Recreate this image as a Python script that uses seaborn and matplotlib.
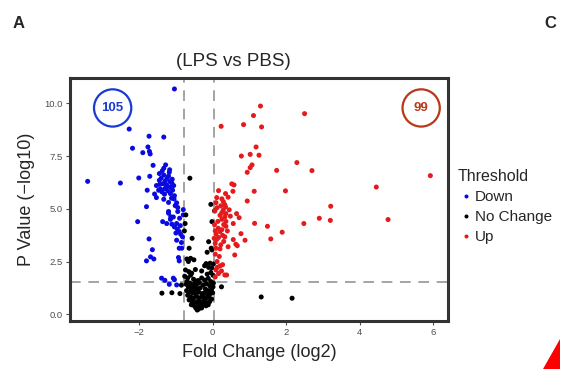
import numpy as np
import pandas as pd
import seaborn as sns
import matplotlib.pyplot as plt
from matplotlib.patches import Polygon

#%% data

down_x = [-1.04, -2.27, -1.73, -1.33, -2.18, -1.76, -1.72, -1.90, -1.70, -1.62, -1.28, -1.33, -2.01,
          -1.71, -3.40, -2.51, -1.45, -1.33, -1.40, -1.18, -1.24, -1.29, -1.16, -1.35, -1.44, -1.25,
          -1.11, -1.15, -1.53, -1.42, -1.47, -1.22, -1.09, -1.31, -1.15, -1.04, -1.05, -0.98, -0.95,
          -0.80, -1.20, -0.95, -0.80, -1.07, -1.36, -1.25, -1.11, -0.98, -1.04, -0.96, -0.91, -0.87,
          -0.82, -0.98, -0.84, -0.91, -0.93, -0.91, -1.53, -1.78, -1.80, -2.04, -1.73, -1.64, -1.69,
          -1.60, -1.80, -1.39, -1.30, -1.18, -1.07, -1.04, -0.98, -1.37, -1.20, -1.10, -1.27, -1.38,
          -1.12, -1.20, -1.02, -0.90, -1.15, -0.88, -1.00, -1.45, -1.06, -1.30, -0.85, -1.33, -1.58,
          -1.17, -1.20, -1.14]
down_y = [10.68, 8.78, 8.44, 8.40, 7.87, 7.93, 7.72, 7.66, 7.60, 7.06, 7.08, 6.92, 6.46,
          6.54, 6.30, 6.22, 6.67, 6.60, 6.45, 6.73, 6.45, 6.32, 6.29, 6.19, 6.16, 6.13,
          6.22, 6.03, 6.10, 5.94, 5.88, 5.85, 5.88, 5.69, 5.72, 5.62, 5.47, 5.28, 5.06,
          4.96, 4.87, 4.87, 4.71, 4.61, 4.39, 4.30, 4.27, 4.30, 4.14, 4.04, 3.92, 3.79,
          3.67, 3.51, 3.13, 3.13, 2.69, 2.53, 5.53, 5.88, 5.10, 4.39, 3.57, 3.06, 2.72,
          2.62, 2.53, 1.71, 1.61, 1.42, 1.71, 1.64, 1.39, 6.80, 6.55, 6.40, 6.00, 5.80,
          5.50, 5.30, 5.15, 4.55, 4.50, 4.20, 3.85, 6.35, 6.10, 5.95, 3.40, 5.45, 5.70,
          6.85, 4.79, 4.62]

nochange_x = [-0.62, -0.05, 0.05, -0.02, -0.73, -0.75, -0.77, -0.56, -0.64, -0.11, -0.04, -0.15,
              -0.02, 1.32, 2.16, -1.38, -1.11, -0.89, 0.24, -0.72, -0.85,
              -0.70, -0.60, -0.51, -0.66, -0.18, -0.07, 0.02, -0.22, -0.11, -0.02, -0.74, -0.65,
              -0.57, -0.47, -0.30, -0.05, -0.15, 0.01,
              -0.76, -0.68, -0.60, -0.52, -0.70, -0.62, -0.55, -0.48, -0.40, -0.30, -0.22, -0.12,
              -0.05, 0.02, -0.17, -0.26, -0.08, 0.01, -0.66, -0.58, -0.50, -0.42, -0.34, -0.20,
              -0.12, -0.03, -0.71, -0.63, -0.54, -0.46, -0.38, -0.29, -0.21, -0.14, -0.06, 0.00,
              -0.68, -0.60, -0.52, -0.44, -0.36, -0.28, -0.19, -0.10, -0.03, -0.64, -0.56, -0.48,
              -0.40, -0.32, -0.24, -0.16, -0.08, -0.58, -0.50, -0.42, -0.34, -0.26, -0.18, -0.46,
              -0.38, -0.30, -0.42, -0.35, -0.55, -0.22, -0.12, -0.44, -0.36, -0.52, -0.27]
nochange_y = [6.45, 5.21, 4.90, 4.39, 4.71, 4.30, 3.95, 3.60, 3.13, 3.44, 3.13, 2.94,
              3.05, 0.82, 0.76, 1.00, 1.02, 0.98, 1.30, 1.42, 1.38,
              2.62, 2.65, 2.58, 2.50, 2.40, 2.42, 2.38, 2.30, 2.22, 2.20, 2.10, 2.02,
              1.95, 2.12, 2.05, 1.98, 1.90, 1.85,
              1.80, 1.72, 1.85, 1.66, 1.55, 1.48, 1.40, 1.52, 1.60, 1.72, 1.62, 1.70,
              1.55, 1.48, 1.45, 1.38, 1.35, 1.30, 1.30, 1.22, 1.28, 1.18, 1.25, 1.20,
              1.12, 1.18, 1.12, 1.05, 1.00, 0.95, 1.05, 0.98, 1.02, 0.92, 0.98, 1.02,
              0.90, 0.82, 0.75, 0.85, 0.78, 0.82, 0.75, 0.80, 0.72, 0.68, 0.60, 0.55,
              0.62, 0.58, 0.62, 0.55, 0.60, 0.45, 0.40, 0.45, 0.38, 0.44, 0.40, 0.30,
              0.25, 0.30, 0.20, 0.35, 0.72, 0.50, 0.45, 1.40, 1.50, 1.10, 0.90]

up_x = [1.30, 1.11, 2.50, 0.23, 0.84, 1.33, 1.18, 1.02, 1.26, 0.78, 2.29, 1.07, 1.02, 0.94,
        1.74, 2.70, 5.92, 0.52, 0.58, 4.45, 0.16, 0.55, 1.13, 1.98, 0.35, 0.11, 0.25, 0.29,
        0.94, 0.09, 0.33, 0.22, 0.35, 0.29, 0.25, 0.36, 0.06, 0.20, 0.33, 0.25, 0.36, 3.21,
        2.90, 3.20, 0.65, 0.72, 1.14, 2.48, 1.49, 4.77, 0.56, 0.36, 0.15, 0.25, 0.07, 0.20,
        0.09, 0.27, 0.16, 0.33, 0.11, 1.89, 0.77, 0.88, 1.58, 0.56, 0.63, 0.67, 0.60, 0.07,
        0.22, 0.09, 0.20, 0.07, 0.18, 0.27, 0.20, 0.13, 0.09, 0.07, 0.16, 0.33, 0.38, 0.45,
        0.42, 0.12, 0.30, 0.14, 0.05, 0.40, 0.48, 0.30, 0.42, 0.04, 0.12, 0.24]
up_y = [9.87, 9.42, 9.51, 8.91, 8.99, 8.88, 7.93, 7.58, 7.54, 7.50, 7.19, 7.08, 6.95, 6.73,
        6.82, 6.81, 6.57, 6.18, 6.13, 6.03, 5.86, 5.83, 5.83, 5.85, 5.72, 5.53, 5.47, 5.34,
        5.37, 5.29, 5.20, 5.14, 5.09, 4.95, 4.82, 4.77, 4.90, 4.69, 4.61, 4.50, 4.40, 5.12,
        4.55, 4.45, 4.77, 4.58, 4.31, 4.30, 4.17, 4.49, 4.30, 4.17, 4.08, 4.01, 3.95, 3.92,
        3.80, 3.74, 3.64, 3.67, 3.55, 3.89, 3.82, 3.51, 3.57, 3.54, 3.32, 3.25, 2.81, 3.36,
        3.29, 3.13, 3.10, 2.85, 2.74, 2.35, 2.29, 2.23, 2.10, 1.77, 1.93, 1.86, 1.86, 4.95,
        5.55, 5.05, 4.25, 4.40, 4.25, 3.95, 4.65, 3.45, 3.20, 3.60, 2.50, 2.05]

groups = ["Down", "No Change", "Up"]
group_colors = ["#0a0ae0", "#000000", "#e41a1c"]
fc_cut = [-0.78, 0.04]
p_cut = 1.52
n_down, n_up = 105, 99
x_ticks = [-2, 0, 2, 4, 6]
y_ticks = [0.0, 2.5, 5.0, 7.5, 10.0]

#%% build table

df = pd.concat([
    pd.DataFrame({"fc": down_x, "p": down_y, "Threshold": "Down"}),
    pd.DataFrame({"fc": nochange_x, "p": nochange_y, "Threshold": "No Change"}),
    pd.DataFrame({"fc": up_x, "p": up_y, "Threshold": "Up"}),
])

#%% plot

sns.set_theme(style="white")
plt.rcParams['font.family'] = ['Liberation Sans', 'DejaVu Sans']

fig = plt.figure(figsize=(5.67, 3.69), dpi=100)
ax = fig.add_axes([70 / 567, 1 - 321 / 369, 378 / 567, 243 / 369])

sns.scatterplot(data=df, x="fc", y="p", hue="Threshold", hue_order=groups,
                palette=dict(zip(groups, group_colors)), s=13, linewidth=0, ax=ax)

for v in fc_cut:
    ax.axvline(v, color="#8c8c8c", lw=1.1, dashes=(7, 5), zorder=0)
ax.axhline(p_cut, color="#8c8c8c", lw=1.1, dashes=(7, 5), zorder=0)

# count badges
ax.scatter([-2.72], [9.78], s=720, facecolors="none", edgecolors="#1a3ad6", linewidths=1.6)
ax.text(-2.72, 9.78, str(n_down), color="#1a3ad6", fontsize=9.5, fontweight="bold",
        ha="center", va="center")
ax.scatter([5.67], [9.78], s=720, facecolors="none", edgecolors="#b8381a", linewidths=1.6)
ax.text(5.67, 9.78, str(n_up), color="#b8381a", fontsize=9.5, fontweight="bold",
        ha="center", va="center")

ax.set_xlim(-3.88, 6.40)
ax.set_ylim(-0.32, 11.2)
ax.set_xticks(x_ticks)
ax.set_xticklabels(["\u22122", "0", "2", "4", "6"])
ax.set_yticks(y_ticks)
ax.set_yticklabels([f"{t:.1f}" for t in y_ticks])
ax.tick_params(labelsize=6.8, colors="#4d4d4d", length=3, width=0.8, direction="out",
               bottom=True, left=True, pad=2)
for sp in ax.spines.values():
    sp.set_color("#333333")
    sp.set_linewidth(2.2)

ax.set_xlabel("Fold Change (log2)", fontsize=13, labelpad=5)
ax.set_ylabel("P Value (\u2212log10)", fontsize=13, labelpad=7)

leg = ax.legend(title="Threshold", loc="upper left", bbox_to_anchor=(452 / 567, 1 - 163 / 369),
                bbox_transform=fig.transFigure, frameon=False, fontsize=11,
                title_fontsize=11.5, handletextpad=0.1, labelspacing=0.4, markerscale=0.8,
                handlelength=1.0, borderaxespad=0)
leg._legend_box.align = "left"

fig.text(233 / 567, 1 - 61 / 369, "(LPS vs PBS)", fontsize=13.5, ha="center", va="center")
fig.text(19 / 567, 1 - 24 / 369, "A", fontsize=12, fontweight="bold", ha="center", va="center")
fig.text(550 / 567, 1 - 24 / 369, "C", fontsize=12, fontweight="bold", ha="center", va="center")

# edge of the neighbouring panel
fig.add_artist(Polygon([[560 / 567, 1 - 339 / 369], [560 / 567, 0], [543 / 567, 0]],
                       closed=True, transform=fig.transFigure, color="#ff0000", lw=0))

fig.savefig("out.png", dpi=100)
